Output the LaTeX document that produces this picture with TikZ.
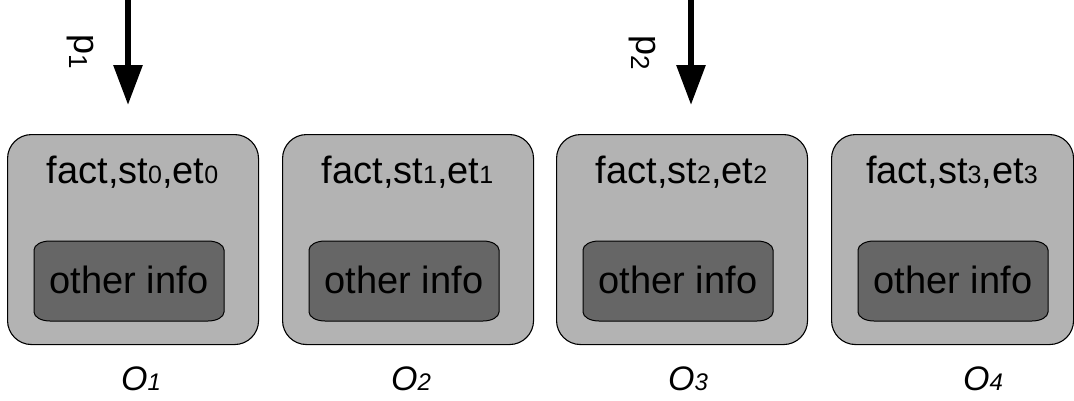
\documentclass[tikz,border=0pt]{standalone}
\usepackage{fontspec}
\setmainfont{Liberation Sans}
\usetikzlibrary{arrows.meta}
\definecolor{boxgray}{HTML}{B3B3B3}
\definecolor{innergray}{HTML}{666666}
% small index digits set on the baseline
\newcommand\idx[2]{{\fontsize{#1}{#1}\selectfont #2}}
% index digit dropped below the baseline
\newcommand\lowidx[2]{\raisebox{-5pt}{\fontsize{#1}{#1}\selectfont #2}}
\begin{document}
\begin{tikzpicture}[x=1pt,y=1pt,
  objbox/.style={draw=black, line width=1.1pt, fill=boxgray, rounded corners=24pt,
    anchor=north west, minimum height=210pt, inner sep=0pt},
  infoshape/.style={draw=black, line width=1pt, fill=innergray},
  bigtext/.style={font=\fontsize{38}{40}\selectfont, anchor=base, inner sep=0pt},
  objlabel/.style={font=\fontsize{34}{36}\selectfont\itshape, anchor=base, inner sep=0pt},
  plabel/.style={font=\fontsize{36}{38}\selectfont, rotate=-90, inner sep=0pt},
  pointer/.style={line width=6pt, -{Triangle[length=40pt,width=28pt]}}
]
\useasboundingbox (0,0) rectangle (1074,-400);

% four object boxes, each with its header text and inner info block
\foreach \i/\x/\w/\s/\ox in {1/7/251/0/141, 2/282/251/1/411, 3/556/251/2/688, 4/831/242/3/983}{
  \node[objbox, minimum width=\w pt] (box\i) at (\x,-134) {};
  \node[bigtext] (fact\i) at ({\x+\w/2},-183) {fact,st\idx{25}{\s},et\idx{25}{\s}};
  \draw[infoshape] ({\x+27},-250)
    -- ({\x+27},-312) arc[start angle=180, end angle=270, x radius=16, y radius=9]
    -- ({\x+201},-321) arc[start angle=270, end angle=360, x radius=16, y radius=9]
    -- ({\x+217},-250) arc[start angle=0, end angle=90, x radius=16, y radius=9]
    -- ({\x+43},-241) arc[start angle=90, end angle=180, x radius=16, y radius=9]
    -- cycle;
  \node[bigtext] (info\i) at ({\x+122},-293) {other info};
  \node[objlabel] (obj\i) at (\ox,-390) {O\idx{24}{\i}};
}

% incoming pointers
\coordinate (src1) at (128,0);
\coordinate (src2) at (691,0);
\draw[pointer, shorten >=29pt] (src1) -- (src1 |- box1.north);
\draw[pointer, shorten >=29pt] (src2) -- (src2 |- box3.north);
\node[plabel] (p1) at (80,-52) {p\lowidx{26}{1}};
\node[plabel] (p2) at (642,-53) {p\lowidx{26}{2}};
\end{tikzpicture}
\end{document}
